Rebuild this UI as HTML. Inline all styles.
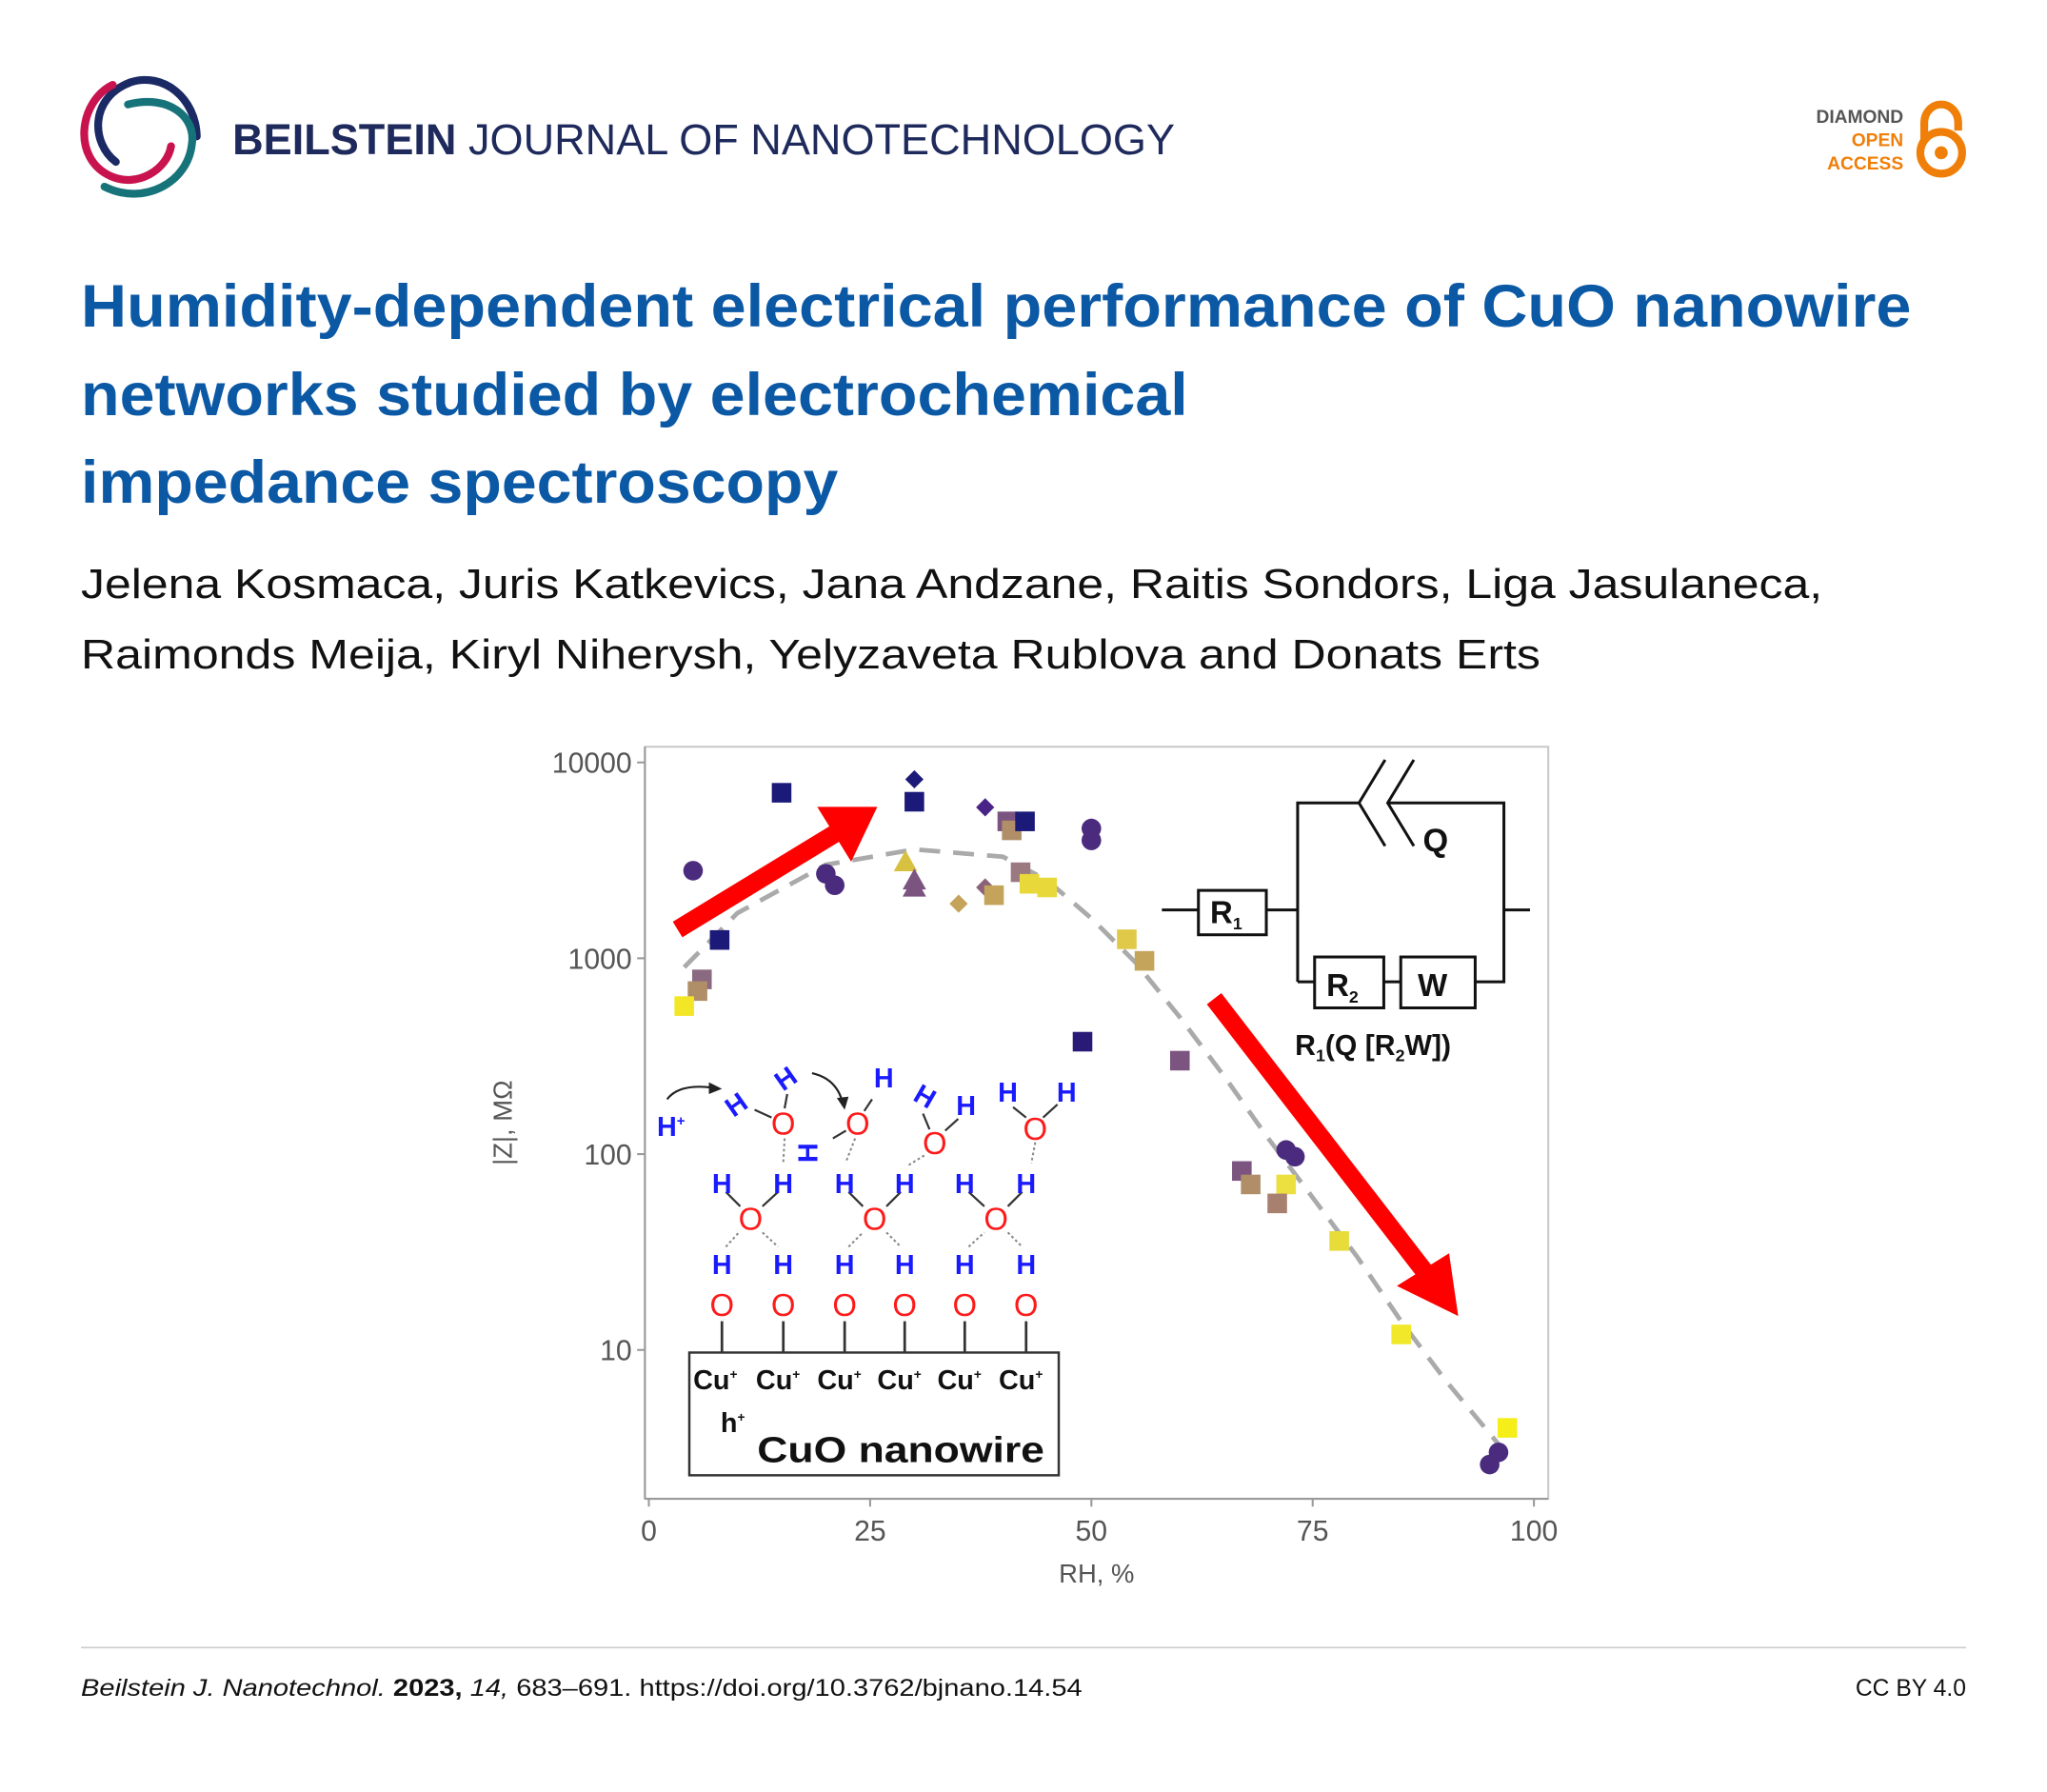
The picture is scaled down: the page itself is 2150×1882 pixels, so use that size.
<!DOCTYPE html>
<html><head><meta charset="utf-8">
<style>
html,body{margin:0;padding:0;background:#fff;}
svg{display:block;}
text{font-family:"Liberation Sans",sans-serif;}
</style></head>
<body>
<svg id="page" width="2150" height="1882" viewBox="0 0 1568 1372.6" xmlns="http://www.w3.org/2000/svg">
<rect width="1568" height="1373" fill="#fff"/>
<!-- logo -->
<g fill="none" stroke-linecap="round" stroke-width="6">
  <path d="M 88.7 124 C 70 110 68 75 100 63 C 125 55 150 75 150.7 104.5" stroke="#1b2a64"/>
  <path d="M 86.3 65 C 60 78 55 122 85 135 C 105 144 128 130 131 112" stroke="#c8134f"/>
  <path d="M 98 80 C 130 72 150 90 147 110 C 144 140 110 158 80 143" stroke="#17737a"/>
</g>
<text x="178" y="118" font-size="33" fill="#1e2a5c" textLength="722" lengthAdjust="spacingAndGlyphs"><tspan font-weight="bold">BEILSTEIN</tspan> JOURNAL OF NANOTECHNOLOGY</text>
<!-- open access -->
<g font-weight="bold" font-size="14" text-anchor="end">
  <text x="1458" y="94" fill="#555">DIAMOND</text>
  <text x="1458" y="112" fill="#f07f09">OPEN</text>
  <text x="1458" y="130" fill="#f07f09">ACCESS</text>
  <path d="M 1474 108 L 1474 94 A 13 14 0 0 1 1500 94 L 1500 100" fill="none" stroke="#f07f09" stroke-width="6"/>
  <circle cx="1487" cy="117" r="16" fill="none" stroke="#f07f09" stroke-width="6"/>
  <circle cx="1487" cy="117" r="5" fill="#f07f09"/>
</g>
<!-- title -->
<g font-weight="bold" font-size="46" fill="#0b58a5">
  <text x="62" y="250" textLength="1402" lengthAdjust="spacingAndGlyphs">Humidity-dependent electrical performance of CuO nanowire</text>
  <text x="62" y="318" textLength="848" lengthAdjust="spacingAndGlyphs">networks studied by electrochemical</text>
  <text x="62" y="385" textLength="580" lengthAdjust="spacingAndGlyphs">impedance spectroscopy</text>
</g>
<g font-size="32" fill="#111">
  <text x="62" y="458" textLength="1334" lengthAdjust="spacingAndGlyphs">Jelena Kosmaca, Juris Katkevics, Jana Andzane, Raitis Sondors, Liga Jasulaneca,</text>
  <text x="62" y="512" textLength="1118" lengthAdjust="spacingAndGlyphs">Raimonds Meija, Kiryl Niherysh, Yelyzaveta Rublova and Donats Erts</text>
</g>
<!-- chart -->
<g id="chart">
  <rect x="494" y="572" width="692" height="576" fill="#fff" stroke="#c8c8c8" stroke-width="1.5"/>
  <line x1="494" y1="572" x2="494" y2="1148" stroke="#999" stroke-width="1.5"/>
  <line x1="494" y1="1148" x2="1186" y2="1148" stroke="#999" stroke-width="1.5"/>
  <g id="axes"></g>
  <path id="trend" fill="none" stroke="#aaa" stroke-width="3.5" stroke-dasharray="16,10"/>
  <g id="marks"></g>
  <text x="840" y="1212" font-size="20" fill="#555" text-anchor="middle">RH, %</text>
  <text transform="translate(392,860) rotate(-90)" font-size="20" fill="#555" text-anchor="middle">|Z|, MΩ</text>
  <!-- arrows -->
  <g fill="#ff0000">
    <line x1="519" y1="712" x2="642" y2="637" stroke="#ff0000" stroke-width="14"/>
    <polygon points="672,618 626,618 652,660"/>
  </g>
  <g fill="#ff0000">
    <line x1="930" y1="765" x2="1096" y2="980" stroke="#ff0000" stroke-width="14"/>
    <polygon points="1117,1008 1070,985 1110,960"/>
  </g>
  <!-- circuit -->
  <g fill="none" stroke="#111" stroke-width="2.2">
    <line x1="890" y1="697" x2="918" y2="697"/>
    <rect x="918" y="682" width="52" height="34" fill="#fff"/>
    <line x1="970" y1="697" x2="994" y2="697"/>
    <polyline points="994,752 994,615 1041,615"/>
    <polyline points="1061,582 1041,615 1061,648"/>
    <polyline points="1083,582 1063,615 1083,648"/>
    <polyline points="1063,615 1152,615 1152,752 1130,752"/>
    <line x1="1152" y1="697" x2="1172" y2="697"/>
    <line x1="994" y1="752" x2="1007" y2="752"/>
    <rect x="1007" y="733" width="53" height="39" fill="#fff"/>
    <line x1="1060" y1="752" x2="1073" y2="752"/>
    <rect x="1073" y="733" width="57" height="39" fill="#fff"/>
  </g>
  <g font-weight="bold" fill="#111">
    <text x="1090" y="652" font-size="25">Q</text>
    <text x="927" y="707" font-size="24">R<tspan font-size="13" dy="5">1</tspan></text>
    <text x="1016" y="763" font-size="24">R<tspan font-size="13" dy="5">2</tspan></text>
    <text x="1086" y="763" font-size="24">W</text>
    <text x="992" y="808" font-size="22">R<tspan font-size="13" dy="5">1</tspan><tspan dy="-5">(Q [R</tspan><tspan font-size="13" dy="5">2</tspan><tspan dy="-5">W])</tspan></text>
  </g>
  <!-- molecule schematic -->
  <g font-weight="bold">
    <g stroke="#333" stroke-width="2">
      <line x1="553" y1="1012" x2="553" y2="1036"/><line x1="600" y1="1012" x2="600" y2="1036"/><line x1="647" y1="1012" x2="647" y2="1036"/>
      <line x1="693" y1="1012" x2="693" y2="1036"/><line x1="739" y1="1012" x2="739" y2="1036"/><line x1="786" y1="1012" x2="786" y2="1036"/>
    </g>
    <g stroke="#888" stroke-width="1.5" stroke-dasharray="2,2">
      <line x1="556" y1="955" x2="566" y2="944"/><line x1="584" y1="944" x2="596" y2="955"/>
      <line x1="650" y1="955" x2="661" y2="944"/><line x1="679" y1="944" x2="690" y2="955"/>
      <line x1="742" y1="955" x2="754" y2="944"/><line x1="772" y1="944" x2="783" y2="955"/>
      <line x1="601" y1="872" x2="600" y2="890"/><line x1="655" y1="872" x2="648" y2="890"/>
      <line x1="708" y1="885" x2="695" y2="893"/><line x1="793" y1="875" x2="790" y2="891"/>
    </g>
    <g stroke="#333" stroke-width="1.6">
      <line x1="556" y1="913" x2="567" y2="924"/><line x1="584" y1="924" x2="596" y2="913"/>
      <line x1="650" y1="913" x2="661" y2="924"/><line x1="679" y1="924" x2="690" y2="913"/>
      <line x1="742" y1="913" x2="754" y2="924"/><line x1="772" y1="924" x2="783" y2="913"/>
      <line x1="578" y1="850" x2="591" y2="856"/><line x1="601" y1="849" x2="603" y2="838"/>
      <line x1="648" y1="866" x2="638" y2="872"/><line x1="662" y1="851" x2="668" y2="842"/>
      <line x1="712" y1="865" x2="707" y2="853"/><line x1="724" y1="866" x2="734" y2="857"/>
      <line x1="776" y1="848" x2="786" y2="856"/><line x1="799" y1="856" x2="810" y2="846"/>
    </g>
    <path d="M 511 842 Q 520 830 545 833" fill="none" stroke="#222" stroke-width="1.6"/>
    <polygon points="553,834 543,829 543,838" fill="#222"/>
    <path d="M 622 822 Q 640 826 645 843" fill="none" stroke="#222" stroke-width="1.6"/>
    <polygon points="647,850 641,841 650,840" fill="#222"/>
    <g fill="#ff1a1a" font-size="24" text-anchor="middle" font-weight="normal">
      <text x="553" y="1008">O</text><text x="600" y="1008">O</text><text x="647" y="1008">O</text>
      <text x="693" y="1008">O</text><text x="739" y="1008">O</text><text x="786" y="1008">O</text>
      <text x="575" y="942">O</text><text x="670" y="942">O</text><text x="763" y="942">O</text>
      <text x="600" y="869">O</text><text x="657" y="869">O</text><text x="716" y="884">O</text><text x="793" y="873">O</text>
    </g>
    <g fill="#1a1aff" font-size="21" text-anchor="middle">
      <text x="553" y="976">H</text><text x="600" y="976">H</text><text x="647" y="976">H</text>
      <text x="693" y="976">H</text><text x="739" y="976">H</text><text x="786" y="976">H</text>
      <text x="553" y="914">H</text><text x="600" y="914">H</text><text x="647" y="914">H</text>
      <text x="693" y="914">H</text><text x="739" y="914">H</text><text x="786" y="914">H</text>
      <text x="740" y="854">H</text><text x="772" y="844">H</text><text x="817" y="844">H</text>
      <text x="677" y="833">H</text>
      <text transform="translate(568,852) rotate(-35)">H</text>
      <text transform="translate(606,832) rotate(-35)">H</text>
      <text transform="translate(626,883) rotate(-90)">H</text>
      <text transform="translate(705,846) rotate(30)">H</text>
      <text x="514" y="870">H<tspan font-size="11" dy="-8">+</tspan></text>
    </g>
    <rect x="528" y="1036" width="283" height="94" fill="#fff" stroke="#333" stroke-width="1.8"/>
    <g fill="#111" font-size="21">
      <text x="531" y="1064">Cu<tspan font-size="10" dy="-8">+</tspan></text>
      <text x="579" y="1064">Cu<tspan font-size="10" dy="-8">+</tspan></text>
      <text x="626" y="1064">Cu<tspan font-size="10" dy="-8">+</tspan></text>
      <text x="672" y="1064">Cu<tspan font-size="10" dy="-8">+</tspan></text>
      <text x="718" y="1064">Cu<tspan font-size="10" dy="-8">+</tspan></text>
      <text x="765" y="1064">Cu<tspan font-size="10" dy="-8">+</tspan></text>
      <text x="552" y="1097">h<tspan font-size="10" dy="-8">+</tspan></text>
      <text x="580" y="1120" font-size="28" textLength="220" lengthAdjust="spacingAndGlyphs">CuO nanowire</text>
    </g>
  </g>
</g>
<!-- footer -->
<line x1="62" y1="1262" x2="1506" y2="1262" stroke="#ccc" stroke-width="1.2"/>
<text x="62" y="1299" font-size="18" fill="#111" textLength="767" lengthAdjust="spacingAndGlyphs"><tspan font-style="italic">Beilstein J. Nanotechnol.</tspan> <tspan font-weight="bold">2023,</tspan> <tspan font-style="italic">14,</tspan> 683–691. https://doi.org/10.3762/bjnano.14.54</text>
<text x="1506" y="1299" font-size="18" fill="#111" text-anchor="end">CC BY 4.0</text>
</svg>
<script>
const xTicks = [0, 25, 50, 75, 100];
const yTicks = [10, 100, 1000, 10000];
const yTickLabels = ["10", "100", "1000", "10000"];
const pointRH = [5, 15, 8, 6, 5.5, 4, 20, 21, 30, 30, 29, 30, 30, 35, 38, 38, 39, 40.5, 41, 42.5, 42, 43, 45, 50, 50, 54, 56, 49, 60, 72, 73, 67, 68, 72, 71, 78, 85, 97, 95, 96];
const pointZ = [2800, 7000, 1240, 780, 680, 570, 2700, 2360, 8200, 6300, 3100, 2500, 2300, 1900, 5900, 2300, 2100, 5000, 4500, 5000, 2750, 2400, 2300, 4600, 4000, 1250, 970, 375, 300, 105, 97, 82, 70, 70, 56, 36, 12, 4, 2.6, 3];
const pointShape = ["c","s","s","s","s","s","c","c","d","s","t","t","t","d","d","d","s","s","s","s","s","s","s","c","c","s","s","s","s","c","c","s","s","s","s","s","s","s","c","c"];
const pointColor = ["#4a2b7e","#1b1a78","#1b1a78","#8a6a80","#b08f68","#f3e626","#4a2b7e","#4a2b7e","#1b1a78","#1b1a78","#d8c040","#7b5580","#7b5580","#c4a35a","#4a2386","#8a6378","#c4a35a","#7b5580","#b08f68","#1b1a78","#9a7a80","#e8d83a","#e8d83a","#4a2b7e","#4a2b7e","#e0c848","#c4a35a","#2a1a78","#7b5580","#4a2b7e","#4a2b7e","#7b5580","#b08f68","#ece040","#a88070","#e8dc3a","#f0e828","#f5ee18","#4a2b7e","#4a2b7e"];
const trendRH = [4, 10, 20, 30, 40, 45, 50, 55, 60, 65, 70, 75, 80, 85, 90, 96];
const trendZ = [900, 1700, 3000, 3600, 3300, 2500, 1600, 950, 500, 250, 120, 60, 30, 14, 7, 3.3];

function xs(v){ return 497 + (1175 - 497) * v / 100; }
function ys(v){ return 584 + (4 - Math.log10(v)) * 150; }
const NS = "http://www.w3.org/2000/svg";
const axes = document.getElementById("axes");
const marks = document.getElementById("marks");
function mk(tag, attrs, parent){ const e = document.createElementNS(NS, tag); for (const k in attrs) e.setAttribute(k, attrs[k]); parent.appendChild(e); return e; }

xTicks.forEach(function(t){
  const x = xs(t);
  const tk = mk("line", {x1:x, y1:1148, x2:x, y2:1154, stroke:"#999", "stroke-width":1.5}, axes);
  
  
  const lb = mk("text", {x:x, y:1180, "font-size":22, fill:"#555", "text-anchor":"middle"}, axes);
  
  
  lb.textContent = String(t);
});
yTicks.forEach(function(t, i){
  const y = ys(t);
  const tk = mk("line", {x1:488, y1:y, x2:494, y2:y, stroke:"#999", "stroke-width":1.5}, axes);
  
  
  const lb = mk("text", {x:484, y:y + 8, "font-size":22, fill:"#555", "text-anchor":"end"}, axes);
  
  
  lb.textContent = yTickLabels[i];
});

let d = "";
trendRH.forEach(function(r, i){ d += (i ? " L " : "M ") + xs(r).toFixed(1) + " " + ys(trendZ[i]).toFixed(1); });
document.getElementById("trend").setAttribute("d", d);

pointRH.forEach(function(r, i){
  const x = xs(r), y = ys(pointZ[i]), c = pointColor[i], s = pointShape[i];
  let e;
  if (s === "c") e = mk("circle", {cx:x, cy:y, r:7.5, fill:c}, marks);
  else if (s === "s") e = mk("rect", {x:x - 7.5, y:y - 7.5, width:15, height:15, fill:c}, marks);
  else if (s === "d") e = mk("polygon", {points:(x)+","+(y-7)+" "+(x+7)+","+y+" "+x+","+(y+7)+" "+(x-7)+","+y, fill:c}, marks);
  else e = mk("polygon", {points:x+","+(y-9)+" "+(x+9)+","+(y+7)+" "+(x-9)+","+(y+7), fill:c}, marks);
  
  
});
</script>
</body></html>
